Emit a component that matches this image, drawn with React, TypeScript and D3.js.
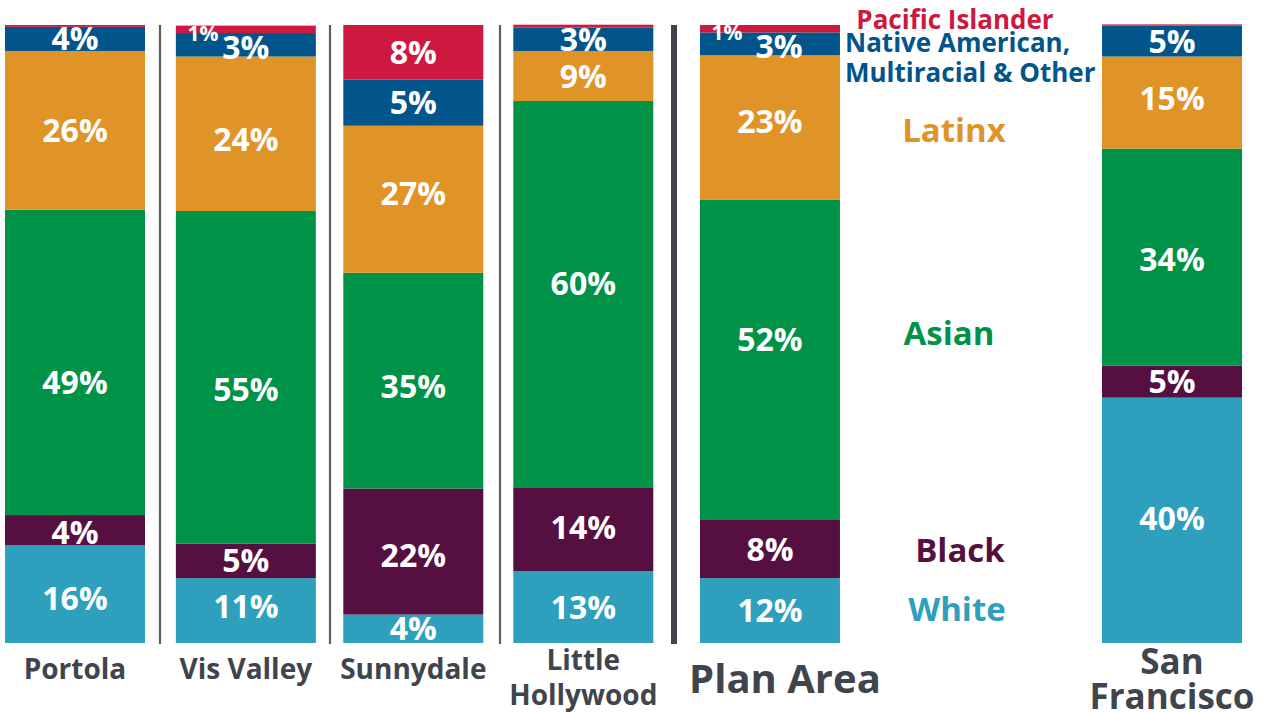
import React from "react";
import * as d3 from "d3";

const categories = ["Portola", "Vis Valley", "Sunnydale", "Little Hollywood", "Plan Area", "San Francisco"];
const keys = ["white", "black", "asian", "latinx", "native", "pacific"];
const white = [15.8, 10.5, 4.6, 11.6, 10.5, 39.7];
const black = [4.9, 5.6, 20.4, 13.6, 9.4, 5.2];
const asian = [49.4, 53.8, 34.9, 62.5, 51.8, 35.1];
const latinx = [25.7, 25.0, 23.8, 8.1, 23.4, 14.9];
const native = [3.9, 3.8, 7.5, 3.8, 3.7, 5.0];
const pacific = [0.3, 1.2, 8.8, 0.45, 1.2, 0.2];

const whiteLabels = [16, 11, 4, 13, 12, 40];
const blackLabels = [4, 5, 22, 14, 8, 5];
const asianLabels = [49, 55, 35, 60, 52, 34];
const latinxLabels = [26, 24, 27, 9, 23, 15];
const nativeLabels = [4, 3, 5, 3, 3, 5];
const pacificLabels: (number | null)[] = [null, 1, 8, null, 1, null];

const legendNames: Record<string, string[]> = {
  pacific: ["Pacific Islander"],
  native: ["Native American,", "Multiracial & Other"],
  latinx: ["Latinx"],
  asian: ["Asian"],
  black: ["Black"],
  white: ["White"],
};

const colors: Record<string, string> = {
  white: "#2E9FBC",
  black: "#560F41",
  asian: "#009247",
  latinx: "#E09327",
  native: "#01558B",
  pacific: "#CD1840",
};

const series: Record<string, number[]> = { white, black, asian, latinx, native, pacific };
const labelSets: Record<string, (number | null)[]> = {
  white: whiteLabels, black: blackLabels, asian: asianLabels, latinx: latinxLabels, native: nativeLabels, pacific: pacificLabels,
};

const W = 1263, H = 713;
const FONT = "'Open Sans', 'DejaVu Sans', sans-serif";
const GRAY = "#40454D";

// layout: vertical nudges (px) of the in-bar labels, as placed in the original
const labelNudge: Record<string, number[]> = {
  white: [4, -4, 0, 0, 0, -2],
  black: [2, 0, 4, -2, 0, 0],
  asian: [20, 12, 6, -11, -20, 2],
  latinx: [0, 6, -6, 0, -6, -4],
  native: [0, 0, 0, 0, 0, 0],
  pacific: [0, 0, 0, 0, 0, 0],
};

export default function App() {
  const rows = categories.map((c, i) => {
    const r: any = { category: c };
    keys.forEach((k) => (r[k] = series[k][i]));
    return r;
  });
  const stacked = d3.stack<any>().keys(keys)(rows);

  // slot positions (layout)
  const slots = [0, 1.005, 1.99, 2.99, 4.088, 6.453];
  const slotX = d3.scaleLinear().domain([0, 1]).range([5, 175]);
  const barW = 140;
  const y = d3.scaleLinear().domain([0, 100]).range([643, 25]);
  const xOf = (i: number) => slotX(slots[i]);

  const dividers = [160, 330, 500];

  const legend = [
    { key: "pacific", x: 955, y: 20, anchor: "middle", fs: 26, lh: 30 },
    { key: "native", x: 845, y: 43, anchor: "start", fs: 26, lh: 30 },
    { key: "latinx", x: 954, y: 130, anchor: "middle", fs: 33, lh: 30 },
    { key: "asian", x: 949, y: 333, anchor: "middle", fs: 33, lh: 30 },
    { key: "black", x: 960, y: 550, anchor: "middle", fs: 33, lh: 30 },
    { key: "white", x: 957, y: 609, anchor: "middle", fs: 33, lh: 30 },
  ];

  const catLines = categories.map((c) =>
    c === "Little Hollywood" || c === "San Francisco" ? c.split(" ") : [c]
  );

  return (
    <svg width={W} height={H} style={{ position: "absolute", left: 0, top: 0, background: "#fff" }} fontFamily={FONT}>
      {dividers.map((dx, i) => (
        <line key={i} x1={dx} x2={dx} y1={25} y2={644} stroke="#5A5F66" strokeWidth={2.2} />
      ))}
      <line x1={674} x2={674} y1={25} y2={644} stroke={GRAY} strokeWidth={6} />

      {stacked.map((s) => (
        <g key={s.key} fill={colors[s.key]}>
          {s.map((d, i) => (
            <rect key={i} x={xOf(i)} width={barW} y={y(d[1])} height={Math.max(0, y(d[0]) - y(d[1]))} />
          ))}
        </g>
      ))}

      {stacked.map((s) => (
        <g key={"l" + s.key} fill="#fff" fontWeight={700} textAnchor="middle">
          {s.map((d, i) => {
            const lab = labelSets[s.key][i];
            if (lab == null) return null;
            const h = y(d[0]) - y(d[1]);
            const cx = xOf(i) + barW / 2;
            const cy = (y(d[0]) + y(d[1])) / 2 + labelNudge[s.key][i];
            if (s.key === "pacific" && h < 15) {
              return (
                <text key={i} x={xOf(i) + 27} y={cy + 4} fontSize={21} textAnchor="middle" dy="0.35em">
                  {lab}%
                </text>
              );
            }
            let dxx = 0, dyy = 0;
            if (s.key === "native" && pacificLabels[i] != null && h < 30) {
              dyy = 3;
              dxx = categories[i] === "Plan Area" ? 9 : 0;
            }
            return (
              <text key={i} x={cx + dxx} y={cy + dyy} fontSize={32} dy="0.36em">
                {lab}%
              </text>
            );
          })}
        </g>
      ))}

      {legend.map((l) => (
        <text key={l.key} fill={colors[l.key]} fontWeight={700} fontSize={l.fs} textAnchor={l.anchor as any}>
          {legendNames[l.key].map((ln, j) => (
            <tspan key={j} x={l.x} y={l.y + j * l.lh} dy="0.36em">{ln}</tspan>
          ))}
        </text>
      ))}

      {categories.map((c, i) => {
        const big = c === "Plan Area" || c === "San Francisco";
        const fs = c === "Plan Area" ? 40 : c === "San Francisco" ? 35 : 28;
        const lines = catLines[i];
        const cx = xOf(i) + barW / 2 + (c === "Plan Area" ? 15 : 0);
        const baseY = lines.length > 1 ? (big ? 661 : 660) : big ? 679 : 669;
        const lh = 35;
        return (
          <text key={c} fill={GRAY} fontWeight={700} fontSize={fs} textAnchor="middle">
            {lines.map((ln, j) => (
              <tspan key={j} x={cx} y={baseY + j * lh} dy="0.36em">{ln}</tspan>
            ))}
          </text>
        );
      })}
    </svg>
  );
}
